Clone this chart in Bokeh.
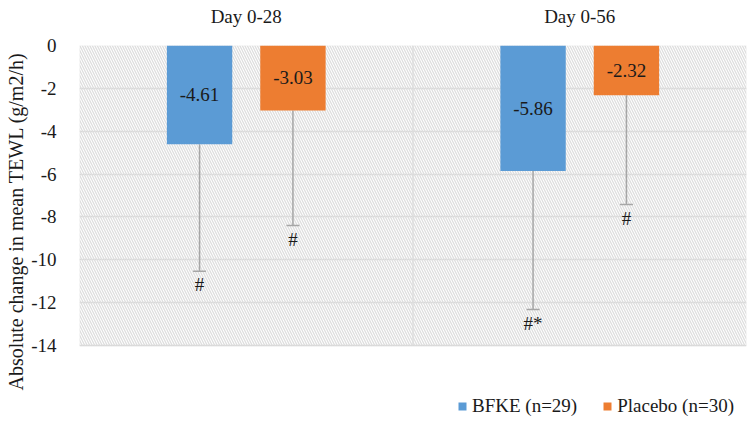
from bokeh.plotting import figure
from bokeh.models import (ColumnDataSource, Range1d, FixedTicker, Whisker, TeeHead,
                          Legend, LegendItem, BoxAnnotation, Title)
from bokeh.embed import file_html
from bokeh.resources import INLINE
from bokeh.core.properties import value

# ---- data ----
periods = ["Day 0-28", "Day 0-56"]
groups = ["BFKE (n=29)", "Placebo (n=30)"]
bfke = [-4.61, -5.86]
placebo = [-3.03, -2.32]
bfke_err = [5.92, 6.46]
placebo_err = [5.37, 5.10]
bfke_sig = ["#", "#*"]
placebo_sig = ["#", "#"]
y_ticks = [0, -2, -4, -6, -8, -10, -12, -14]
y_label = "Absolute change in mean TEWL (g/m2/h)"
colors = ["#5B9BD5", "#ED7D31"]

FONT = "Liberation Serif"
FS = "19px"
OFFSET = 0.14
BAR_W = 0.196
Y_MIN, Y_MAX = min(y_ticks), max(y_ticks)
LEGEND_ROOM = 3.733  # extra axis room below the plot area for the legend

p = figure(width=750, height=430, x_range=Range1d(0, len(periods)),
           y_range=Range1d(Y_MIN - LEGEND_ROOM, Y_MAX),
           output_backend="svg", toolbar_location=None, x_axis_location="above",
           min_border_left=75, min_border_right=4, min_border_top=45, min_border_bottom=5)
p.outline_line_color = None
p.background_fill_color = "white"
p.border_fill_color = "white"

# hatched plot area with light border
p.add_layout(BoxAnnotation(bottom=Y_MIN, top=Y_MAX, fill_alpha=0, line_color="#d9d9d9", line_width=1.3,
                           hatch_pattern="left_diagonal_line", hatch_color="#dedede",
                           hatch_scale=5, hatch_weight=1.3, level="underlay"))

# grid
p.ygrid.ticker = FixedTicker(ticks=y_ticks)
p.ygrid.grid_line_color = "#d9d9d9"
p.ygrid.grid_line_width = 1.3
p.xgrid.visible = False
dividers = list(range(1, len(periods)))
p.segment(x0=dividers, x1=dividers, y0=[Y_MIN] * len(dividers), y1=[Y_MAX] * len(dividers),
          line_color="#d9d9d9", line_width=1.3, level="underlay")

renderers = []
for vals, errs, sigs, col, sign in [(bfke, bfke_err, bfke_sig, colors[0], -1),
                                    (placebo, placebo_err, placebo_sig, colors[1], 1)]:
    xs = [i + 0.5 + sign * OFFSET for i in range(len(periods))]
    src = ColumnDataSource(dict(
        x=xs, top=vals, mid=[v / 2 for v in vals],
        lab=["%.2f" % v for v in vals],
        lower=[v - e for v, e in zip(vals, errs)], sig=sigs))
    w = Whisker(base="x", upper="top", lower="lower", source=src, line_color="#a6a6a6",
                line_width=1.5, upper_head=None,
                lower_head=TeeHead(size=13, line_color="#a6a6a6", line_width=1.5))
    p.add_layout(w)
    r = p.vbar(x="x", top="top", bottom=0, width=BAR_W, source=src, fill_color=col, line_color=None)
    renderers.append(r)
    p.text(x="x", y="mid", text="lab", source=src, text_align="center", text_baseline="middle",
           text_font=value(FONT), text_font_size=FS, text_color="#1a1a1a")
    p.text(x="x", y="lower", text="sig", source=src, text_align="center", text_baseline="top",
           y_offset=3, text_font=value(FONT), text_font_size=FS, text_color="#1a1a1a")

# axes
p.xaxis.ticker = FixedTicker(ticks=[i + 0.5 for i in range(len(periods))])
p.xaxis.major_label_overrides = {i + 0.5: lab for i, lab in enumerate(periods)}
p.xaxis.major_tick_line_color = None
p.xaxis.minor_tick_line_color = None
p.xaxis.axis_line_color = None
p.xaxis.major_label_standoff = 13
p.xaxis.major_label_text_font = FONT
p.xaxis.major_label_text_font_size = FS
p.xaxis.major_label_text_color = "#1a1a1a"

p.yaxis.ticker = FixedTicker(ticks=y_ticks)
p.yaxis.major_label_overrides = {t: str(t) for t in y_ticks}
p.yaxis.major_tick_line_color = None
p.yaxis.minor_tick_line_color = None
p.yaxis.axis_line_color = None
p.yaxis.major_label_standoff = 17
p.yaxis.major_label_text_font = FONT
p.yaxis.major_label_text_font_size = FS
p.yaxis.major_label_text_color = "#1a1a1a"

t = Title(text=y_label, align="left", offset=35, text_font=FONT, text_font_size="20px",
          text_font_style="normal", text_color="#1a1a1a", standoff=4)
p.add_layout(t, "left")

legend = Legend(items=[LegendItem(label=g, renderers=[r]) for g, r in zip(groups, renderers)],
                orientation="horizontal", location=(378, 8), padding=0, margin=0,
                spacing=25, glyph_width=10, glyph_height=10, label_standoff=5,
                label_text_font=FONT, label_text_font_size=FS, label_text_color="#1a1a1a",
                border_line_color=None, background_fill_alpha=0)
p.add_layout(legend)

open("out.html", "w").write(file_html(p, INLINE))
